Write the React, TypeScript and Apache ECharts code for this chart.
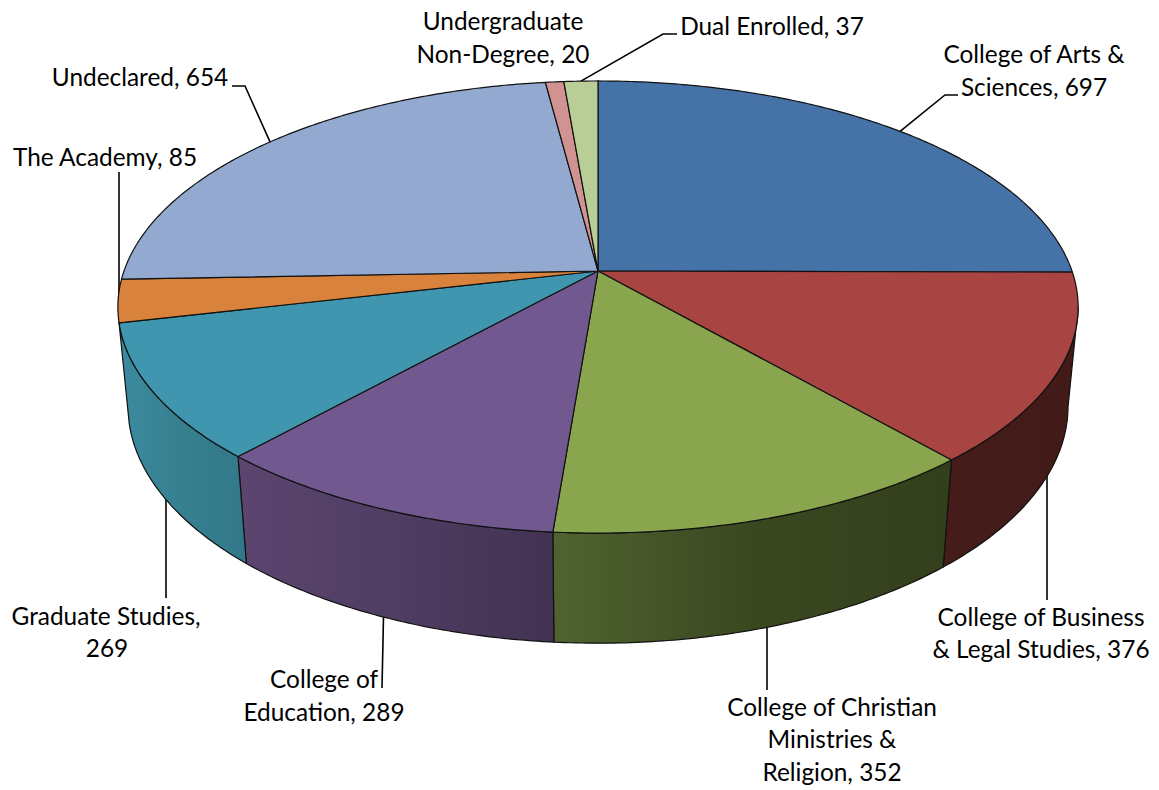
import React, { useEffect, useRef } from "react";
import * as echarts from "echarts";

const categories = [
  "College of Arts &\nSciences",
  "College of Business\n& Legal Studies",
  "College of Christian\nMinistries &\nReligion",
  "College of\nEducation",
  "Graduate Studies,\n",
  "The Academy",
  "Undeclared",
  "Undergraduate\nNon-Degree",
  "Dual Enrolled",
];
const values = [697, 376, 352, 289, 269, 85, 654, 20, 37];
const topColors = ["#4572A7", "#A84543", "#89A54E", "#71588F", "#4096AE", "#D9823C", "#93A9CF", "#D19392", "#B9CD96"];
const sideStops: string[][] = [
  ["#2a4464", "#2a4464"],
  ["#451c1a", "#421b18"],
  ["#50632f", "#3a4820", "#333f1c"],
  ["#5c4570", "#4f3d62", "#423252"],
  ["#3c8aa0", "#36808f", "#32788a"],
  ["#3f8ea5", "#3f8ea5"],
  ["#586580", "#586580"],
  ["#7d5857", "#7d5857"],
  ["#6f7b5a", "#6f7b5a"],
];

// layout of each label: centre x of every line, y of every line
const labelLayout = [
  { xs: [1034, 1034], ys: [53, 86] },
  { xs: [1041, 1041], ys: [616, 648] },
  { xs: [832, 832, 832], ys: [706, 738, 771] },
  { xs: [324, 324], ys: [678, 711] },
  { xs: [106, 107], ys: [615, 647] },
  { xs: [105], ys: [156] },
  { xs: [140], ys: [76] },
  { xs: [503, 503], ys: [20, 53] },
  { xs: [772], ys: [25] },
];
// where each leader line runs to after leaving its slice
const leaderEnds: (number[][] | null)[] = [
  [[945, 95], [958, 95]],
  [[1047, 600]],
  [[767, 690]],
  [[382, 688]],
  [[166, 598]],
  [[119, 172]],
  [[245, 86], [232, 86]],
  null,
  [[663, 34], [677, 34]],
];
const verticalLeader = [false, true, true, false, true, true, false, false, false];

const CX = 598, CY = 271, KX = 474, KY = 220.3, C = 0.1593, D = 0.021, E = 100.4;
const SILHOUETTE = (99.2 * Math.PI) / 180;
const MIN_SIDE = 0.1;
const total = values.reduce((a, b) => a + b, 0);
const starts: number[] = [];
values.reduce((acc, v, i) => {
  starts[i] = acc;
  return acc + v;
}, 0);
const angleOf = (cum: number) => (cum / total) * Math.PI * 2;

function project(a: number, z: number) {
  const u = Math.sin(a), v = Math.cos(a);
  const w = 1 + C * v + D * z;
  return [CX + (KX * u) / w, CY + (-KY * v + E * z) / w];
}
function arc(a0: number, a1: number, z: number) {
  const n = Math.max(2, Math.ceil((a1 - a0) / 0.01));
  const out: number[][] = [];
  for (let i = 0; i <= n; i++) out.push(project(a0 + ((a1 - a0) * i) / n, z));
  return out;
}

const renderSide = (params: any) => {
  const i = params.dataIndex;
  const a0 = Math.max(angleOf(starts[i]), SILHOUETTE);
  const a1 = Math.min(angleOf(starts[i] + values[i]), Math.PI * 2 - SILHOUETTE);
  if (a1 - a0 < MIN_SIDE) return { type: "group", children: [] };
  const pts = [...arc(a0, a1, 0), ...arc(a0, a1, 1).reverse()];
  const stops = sideStops[i].map((color, k, l) => ({ offset: k / (l.length - 1), color }));
  return {
    type: "polygon",
    shape: { points: pts },
    style: {
      fill: new echarts.graphic.LinearGradient(0, 0, 1, 0, stops),
      stroke: "#111",
      lineWidth: 1.2,
      lineJoin: "round",
    },
    silent: true,
  };
};

const renderTop = (params: any) => {
  const i = params.dataIndex;
  const a0 = angleOf(starts[i]);
  const a1 = angleOf(starts[i] + values[i]);
  return {
    type: "polygon",
    shape: { points: [[CX, CY], ...arc(a0, a1, 0)] },
    style: { fill: topColors[i], stroke: "#111", lineWidth: 1.2, lineJoin: "round" },
    silent: true,
  };
};

function buildGraphic() {
  const els: any[] = [];
  values.forEach((value, i) => {
    const ends = leaderEnds[i];
    if (ends) {
      const mid = angleOf(starts[i] + value / 2);
      const front = mid > SILHOUETTE && mid < Math.PI * 2 - SILHOUETTE;
      const anchor = project(mid, front ? 1 : 0);
      if (verticalLeader[i]) anchor[0] = ends[0][0];
      els.push({
        type: "polyline",
        shape: { points: [anchor, ...ends] },
        style: { stroke: "#000", lineWidth: 1.6, fill: "none" },
        silent: true,
      });
    }
    const name = categories[i];
    const text = name.endsWith(",\n") ? `${name}${value}` : `${name}, ${value}`;
    text.split("\n").forEach((line, k) => {
      els.push({
        type: "text",
        x: labelLayout[i].xs[k],
        y: labelLayout[i].ys[k],
        style: {
          text: line,
          fill: "#000",
          font: "24.4px Lato",
          textAlign: "center",
          textVerticalAlign: "middle",
        },
        silent: true,
      });
    });
  });
  return els;
}

export default function App() {
  const ref = useRef<HTMLDivElement>(null);
  useEffect(() => {
    document.body.style.margin = "0";
    const chart = echarts.init(ref.current!, undefined, { renderer: "svg" });
    chart.setOption({
      animation: false,
      backgroundColor: "#fff",
      graphic: buildGraphic(),
      series: [
        { type: "custom", coordinateSystem: "none", z: 1, silent: true, clip: false, data: values, renderItem: renderSide },
        { type: "custom", coordinateSystem: "none", z: 2, silent: true, clip: false, data: values, renderItem: renderTop },
      ],
    });
    return () => chart.dispose();
  }, []);
  return <div ref={ref} style={{ width: 1159, height: 790 }} />;
}
